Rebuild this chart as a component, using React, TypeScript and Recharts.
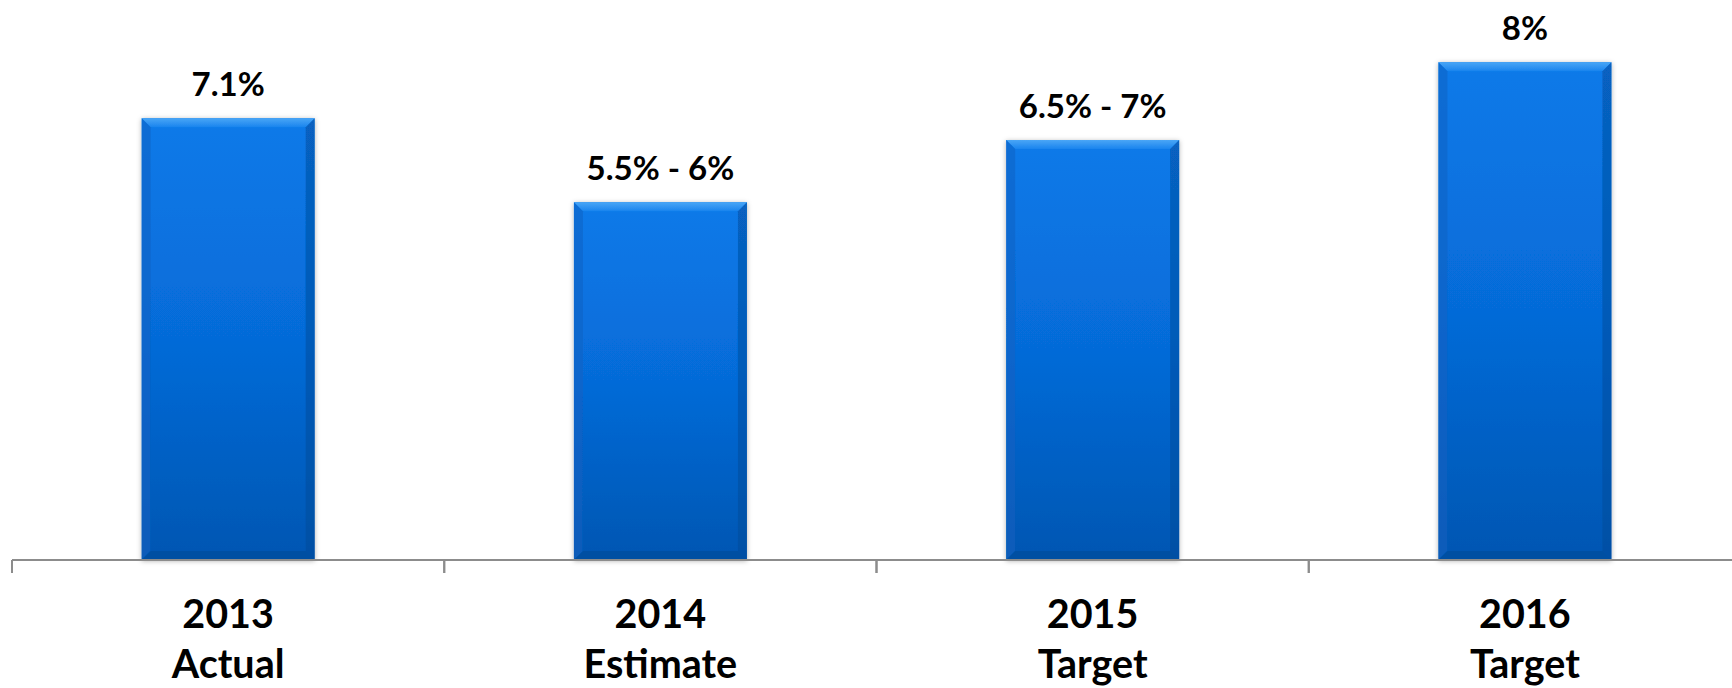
import React from "react";
import { BarChart, Bar, XAxis, YAxis, LabelList } from "recharts";

const categories = ["2013", "2014", "2015", "2016"];
const subtitles = ["Actual", "Estimate", "Target", "Target"];
const values = [7.1, 5.75, 6.75, 8];
const valueLabels = ["7.1%", "5.5% - 6%", "6.5% - 7%", "8%"];

const data = categories.map((c, i) => ({
  cat: c,
  sub: subtitles[i],
  value: values[i],
  label: valueLabels[i],
}));

const FONT = "Lato, 'Liberation Sans', sans-serif";
const AXIS_COLOR = "#8c8c8c";

const BevelBar = (props: any) => {
  const { x, y, width, height } = props;
  if (!height || height <= 0) return null;
  const b = 9;
  return (
    <g filter="url(#barShadow)">
      <rect x={x} y={y} width={width} height={height} fill="url(#barGrad)" />
      <polygon
        points={`${x},${y} ${x + width},${y} ${x + width - b},${y + b} ${x + b},${y + b}`}
        fill="url(#topBevel)"
      />
      <polygon
        points={`${x},${y} ${x + b},${y + b} ${x + b},${y + height - b} ${x},${y + height}`}
        fill="#0a5fc0"
        opacity={0.5}
      />
      <polygon
        points={`${x + width},${y} ${x + width - b},${y + b} ${x + width - b},${y + height - b} ${x + width},${y + height}`}
        fill="#044a98"
        opacity={0.5}
      />
      <polygon
        points={`${x},${y + height} ${x + b},${y + height - b} ${x + width - b},${y + height - b} ${x + width},${y + height}`}
        fill="#03468f"
        opacity={0.45}
      />
    </g>
  );
};

const CatTick = (props: any) => {
  const { x, y, payload } = props;
  const half = payload && typeof payload.offset === "number" ? payload.offset : 0;
  return (
    <g>
      <line x1={x - half} y1={y} x2={x - half} y2={y + 13} stroke={AXIS_COLOR} strokeWidth={2} />
      <line x1={x + half} y1={y} x2={x + half} y2={y + 13} stroke={AXIS_COLOR} strokeWidth={2} />
      <text x={x} y={y + 68} textAnchor="middle" fontFamily={FONT} fontWeight={700} fontSize={39.5} fill="#000">
        {payload.value}
      </text>
      <text x={x} y={y + 118} textAnchor="middle" fontFamily={FONT} fontWeight={700} fontSize={39.5} fill="#000">
        {subtitles[payload.index]}
      </text>
    </g>
  );
};

export default function App() {
  return (
    <div
      style={{
        position: "absolute",
        left: 0,
        top: 0,
        width: 1732,
        height: 688,
        overflow: "hidden",
        background: "#fff",
      }}
    >
      <BarChart
        width={1760}
        height={688}
        data={data}
        margin={{ top: 0, right: 19, bottom: 127, left: 12 }}
        barCategoryGap="30%"
      >
        <defs>
          <linearGradient id="barGrad" x1="0" y1="0" x2="0" y2="1">
            <stop offset="0%" stopColor="#0a7ae9" />
            <stop offset="50%" stopColor="#066bd8" />
            <stop offset="100%" stopColor="#0556b2" />
          </linearGradient>
          <linearGradient id="topBevel" x1="0" y1="0" x2="0" y2="1">
            <stop offset="0%" stopColor="#4aa6f6" />
            <stop offset="100%" stopColor="#1a84ee" />
          </linearGradient>
          <filter id="barShadow" x="-10%" y="-10%" width="120%" height="120%">
            <feDropShadow dx="0" dy="1" stdDeviation="2.5" floodColor="#000" floodOpacity="0.3" />
          </filter>
        </defs>
        <XAxis
          dataKey="cat"
          height={1}
          axisLine={{ stroke: AXIS_COLOR, strokeWidth: 2 }}
          tickLine={false}
          tickSize={0}
          tickMargin={0}
          interval={0}
          tick={CatTick}
        />
        <YAxis hide domain={[0, 9]} />
        <Bar dataKey="value" shape={BevelBar} isAnimationActive={false}>
          <LabelList
            dataKey="label"
            position="top"
            offset={22}
            fill="#000"
            fontFamily={FONT}
            fontWeight={700}
            fontSize={33}
          />
        </Bar>
      </BarChart>
    </div>
  );
}
